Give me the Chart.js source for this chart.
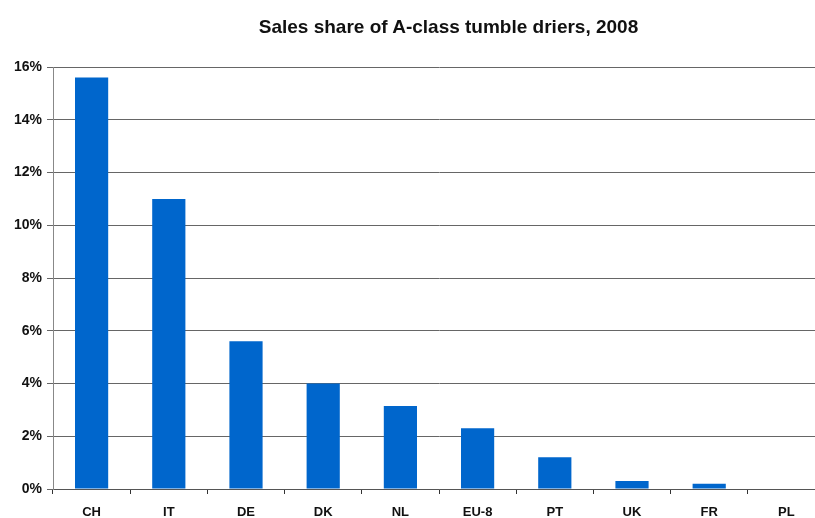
<!DOCTYPE html>
<html>
<head>
<meta charset="utf-8">
<script src="https://cdn.jsdelivr.net/npm/chart.js@4.4.0/dist/chart.umd.min.js"></script>
<style>
  html, body { margin: 0; padding: 0; background: #fff; overflow: hidden; }
  #wrap { position: relative; width: 825px; height: 518px; }
  #title {
    position: absolute; left: 0; top: 16px; width: 897px; text-align: center;
    font: bold 19px "Liberation Sans", Arial, sans-serif; color: #111;
  }
</style>
</head>
<body>
<div id="wrap">
  <div id="title">Sales share of A-class tumble driers, 2008</div>
  <canvas id="salesChart"></canvas>
</div>
<script>
// sales share (%) per country, 2008
const countries = ['CH', 'IT', 'DE', 'DK', 'NL', 'EU-8', 'PT', 'UK', 'FR', 'PL'];
const shares = [15.6, 11.0, 5.6, 4.0, 3.15, 2.3, 1.2, 0.3, 0.2, 0];
const yTicks = [0, 2, 4, 6, 8, 10, 12, 14, 16];

const ctx = document.getElementById('salesChart');
new Chart(ctx, {
    type: 'bar',
    data: {
        labels: countries,
        datasets: [{
            data: shares,
            backgroundColor: '#0066cc',
            borderWidth: 0,
            barPercentage: 0.43,
            categoryPercentage: 1
        }]
    },
    options: {
        responsive: true,
        maintainAspectRatio: false,
        animation: false,
        layout: { padding: { top: 67, right: 0, left: 0, bottom: 0 } },
        plugins: { legend: { display: false }, tooltip: { enabled: false } },
        scales: {
            x: {
                offset: true,
                grid: { offset: true, drawOnChartArea: false, color: '#333', tickLength: 5 },
                border: { color: '#555', width: 1 },
                ticks: { color: '#111', padding: 11, font: { family: 'Liberation Sans', size: 13, weight: 'bold' } },
                afterFit: (s) => { s.height = 29; }
            },
            y: {
                min: 0, max: 16,
                afterBuildTicks: (s) => { s.ticks = yTicks.map(v => ({ value: v })); },
                grid: { color: '#666', tickLength: 6 },
                border: { color: '#888', width: 1 },
                ticks: {
                    color: '#111', padding: 5,
                    font: { family: 'Liberation Sans', size: 14, weight: 'bold' },
                    callback: (v) => v + '%'
                },
                afterFit: (s) => { s.width = 53; }
            }
        }
    }
});
</script>
</body>
</html>
